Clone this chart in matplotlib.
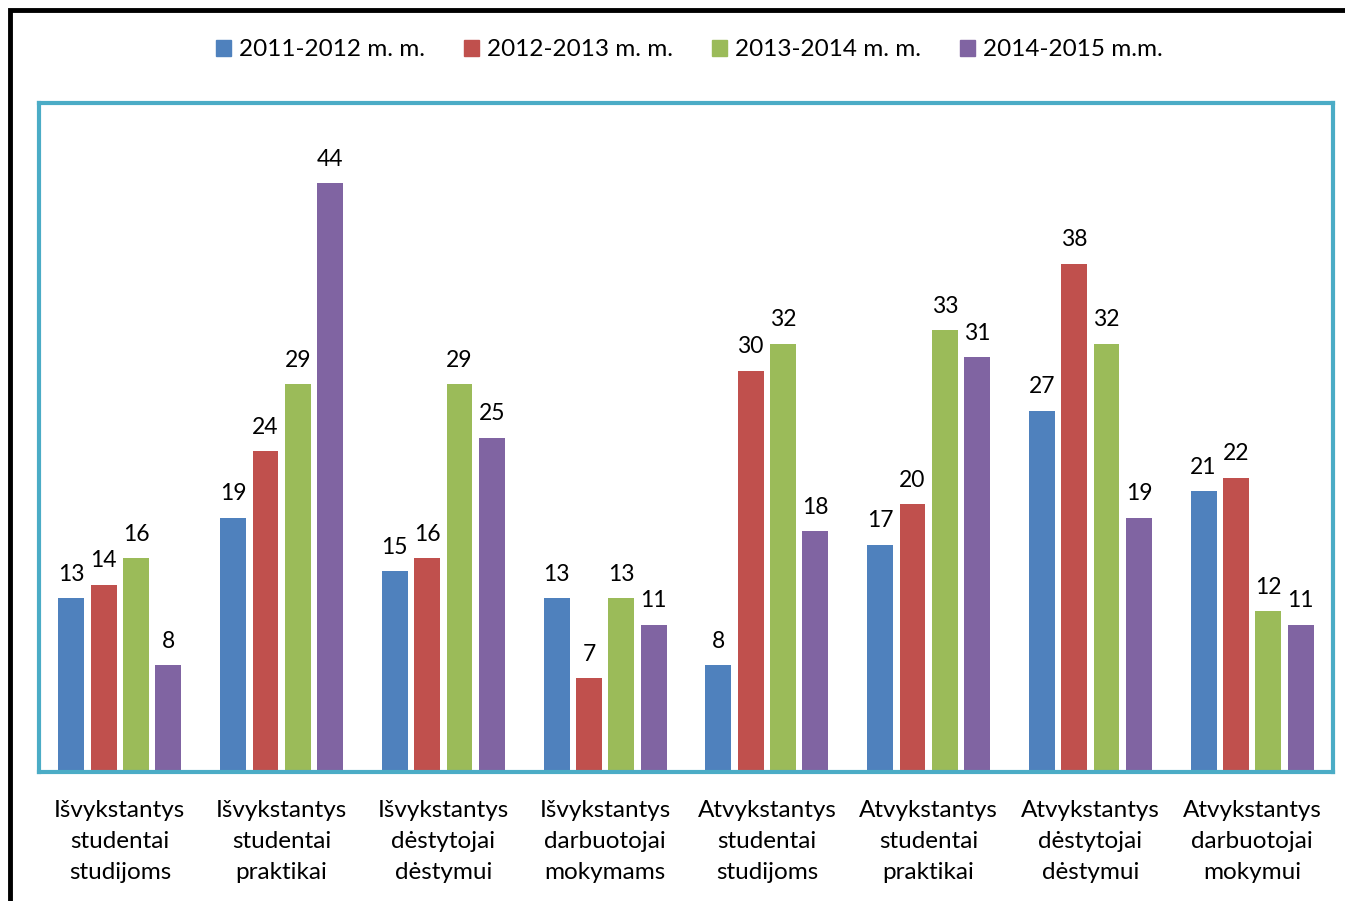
import matplotlib.pyplot as plt
import matplotlib.patches as mpatches
import numpy as np

categories = [
    "Išvykstantys\nstudentai\nstudijoms",
    "Išvykstantys\nstudentai\npraktikai",
    "Išvykstantys\ndėstytojai\ndėstymui",
    "Išvykstantys\ndarbuotojai\nmokymams",
    "Atvykstantys\nstudentai\nstudijoms",
    "Atvykstantys\nstudentai\npraktikai",
    "Atvykstantys\ndėstytojai\ndėstymui",
    "Atvykstantys\ndarbuotojai\nmokymui",
]
series_names = ["2011-2012 m. m.", "2012-2013 m. m.", "2013-2014 m. m.", "2014-2015 m.m."]
y2011 = [13, 19, 15, 13, 8, 17, 27, 21]
y2012 = [14, 24, 16, 7, 30, 20, 38, 22]
y2013 = [16, 29, 29, 13, 32, 33, 32, 12]
y2014 = [8, 44, 25, 11, 18, 31, 19, 11]

colors = ["#4F81BD", "#C0504D", "#9BBB59", "#8064A2"]

plt.rcParams['font.family'] = ['Lato', 'DejaVu Sans']

W, H = 1345, 901
fig = plt.figure(figsize=(W / 100, H / 100), dpi=100)

# black outer frame (runs off the right/bottom of the image)
fig.patches.append(mpatches.Rectangle((10 / W, -0.05), 1.1, 1 - 10 / H + 0.05,
                                      transform=fig.transFigure, fill=False,
                                      edgecolor='black', linewidth=3.5))

left, right, top, bottom = 39, 1333, 103, 772
ax = fig.add_axes([left / W, 1 - bottom / H, (right - left) / W, (bottom - top) / H])

x = np.arange(len(categories))
step = 0.2
width = 0.16
for i, (vals, name) in enumerate(zip([y2011, y2012, y2013, y2014], series_names)):
    b = ax.bar(x + (i - 1.5) * step, vals, width, color=colors[i], label=name)
    for rect, v in zip(b, vals):
        ax.text(rect.get_x() + rect.get_width() / 2, v + 1.0, str(v),
                ha='center', va='bottom', fontsize=16.5)

ax.set_xlim(-0.5, len(categories) - 0.5)
ax.set_ylim(0, 50)
ax.set_yticks([])
ax.set_xticks(x)
ax.set_xticklabels(categories, fontsize=17.5, linespacing=1.6)
ax.tick_params(axis='x', length=0, pad=20)
for s in ax.spines.values():
    s.set_color('#4BACC6')
    s.set_linewidth(3)
ax.axhline(0, color='#8c8c8c', linewidth=1.5)

fig.legend(handles=[mpatches.Patch(color=c, label=n) for c, n in zip(colors, series_names)],
           loc='center', bbox_to_anchor=(689 / W, 1 - 50 / H), ncol=4, frameon=False,
           fontsize=17.5, handlelength=0.65, handleheight=0.65, handletextpad=0.3,
           columnspacing=1.6)

fig.savefig('out.png', dpi=100)
